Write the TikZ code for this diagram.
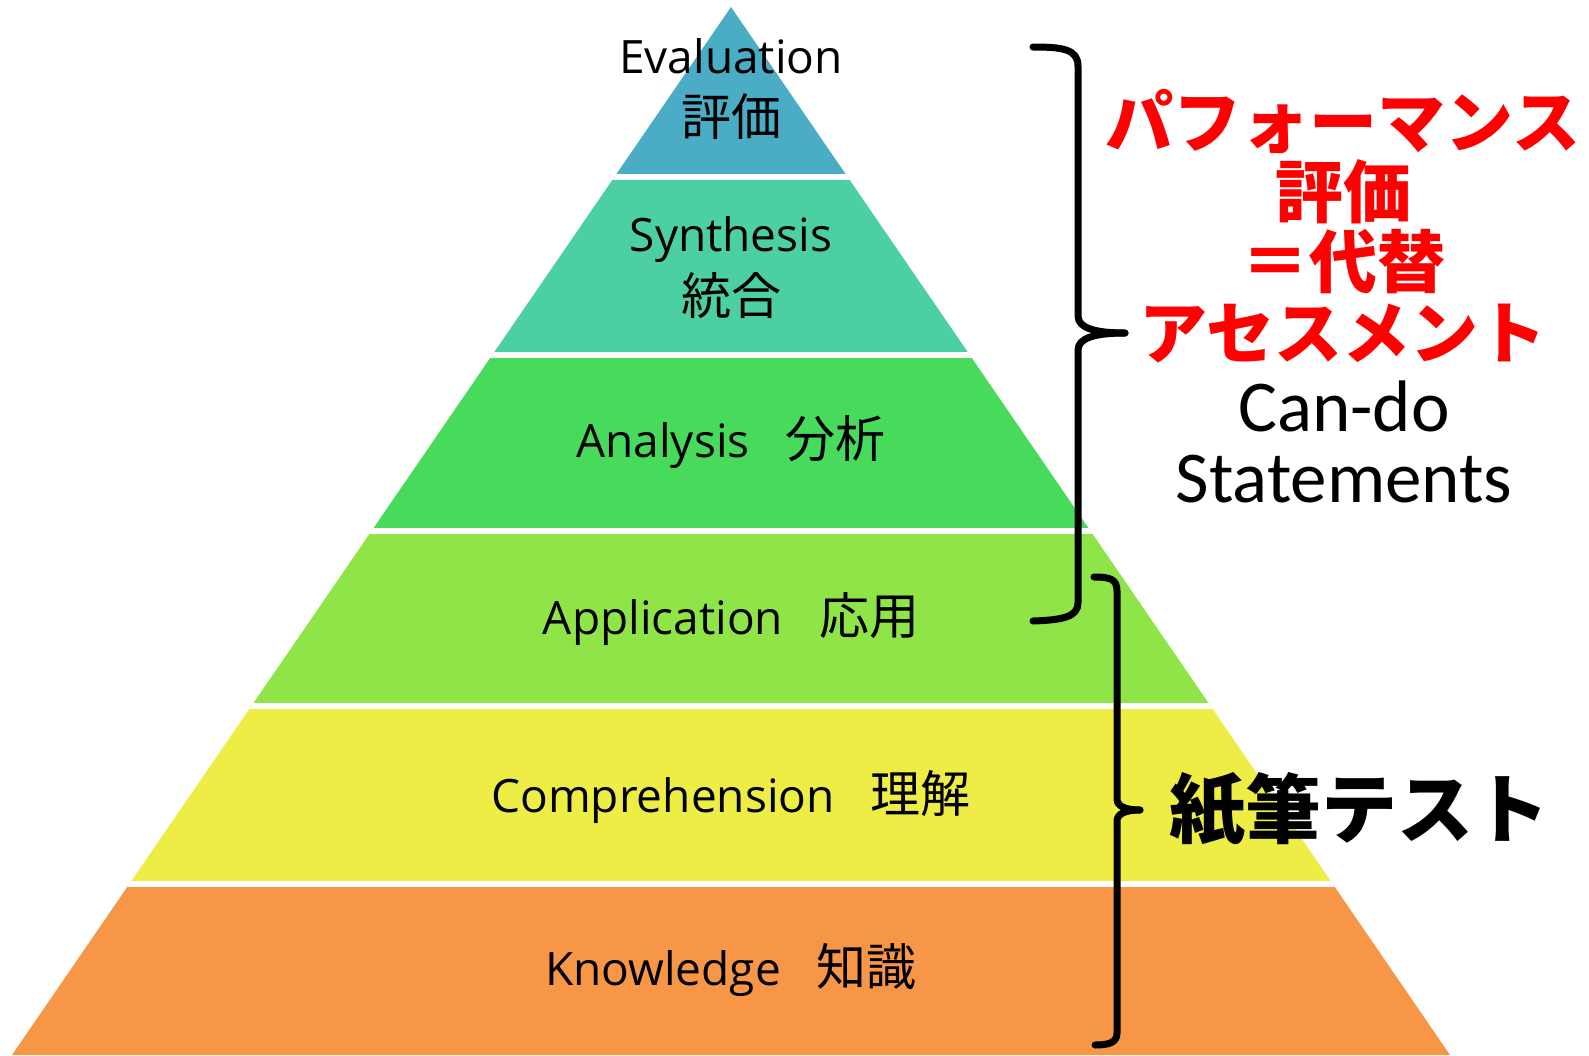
\documentclass[tikz,border=0pt]{standalone}
\usepackage{fontspec}
\setmainfont{Open Sans}
\newfontfamily\jpfont{Noto Sans CJK JP}
\newfontfamily\carfont{Carlito}
\definecolor{cEval}{RGB}{75,172,198}
\definecolor{cSynth}{RGB}{75,207,163}
\definecolor{cAnal}{RGB}{71,218,91}
\definecolor{cAppl}{RGB}{143,229,72}
\definecolor{cComp}{RGB}{237,237,69}
\definecolor{cKnow}{RGB}{247,150,70}
\definecolor{cRed}{RGB}{255,0,0}
\tikzset{
  lab/.style={anchor=base, inner sep=0pt, font=\fontsize{46}{50}\selectfont},
  jplab/.style={anchor=base, inner sep=0pt, font=\jpfont\fontsize{50}{55}\selectfont},
  redlab/.style={anchor=base, inner sep=0pt, text=cRed, font=\jpfont\bfseries\fontsize{68}{72}\selectfont},
  canlab/.style={anchor=base, inner sep=0pt, font=\carfont\fontsize{73}{78}\selectfont},
  testlab/.style={anchor=base, inner sep=0pt, font=\jpfont\bfseries\fontsize{76}{80}\selectfont},
  bracestyle/.style={draw=black, line width=7pt, line cap=round, line join=round},
  gapline/.style={draw=white, line width=6pt}
}
\newcommand{\jp}[1]{{\jpfont\fontsize{50}{55}\selectfont #1}}
\begin{document}
\begin{tikzpicture}[x=1pt,y=-1pt]
\useasboundingbox (0,0) rectangle (1589,1055);
\fill[white] (0,0) rectangle (1589,1055);
% pyramid
\coordinate (apex) at (731,7);
\coordinate (bl) at (12,1055);
\coordinate (br) at (1450,1055);
\begin{scope}
  \clip (apex) -- (br) -- (bl) -- cycle;
  \fill[cEval]  (0,0)   rectangle (1589,177);
  \fill[cSynth] (0,177) rectangle (1589,354.5);
  \fill[cAnal]  (0,354.5) rectangle (1589,530.5);
  \fill[cAppl]  (0,530.5) rectangle (1589,706);
  \fill[cComp]  (0,706) rectangle (1589,884);
  \fill[cKnow]  (0,884) rectangle (1589,1060);
  \draw[gapline] (0,177) -- (1589,177);
  \draw[gapline] (0,354.5) -- (1589,354.5);
  \draw[gapline] (0,530.5) -- (1589,530.5);
  \draw[gapline] (0,706) -- (1589,706);
  \draw[gapline] (0,884) -- (1589,884);
\end{scope}
% pyramid labels
\node[lab] (eval) at (731,73) {Evaluation};
\node[jplab] (evaljp) at (731,135) {評価};
\node[lab] (synth) at (731,251) {Synthesis};
\node[jplab] (synthjp) at (731,314) {統合};
\node[lab] (anal) at (731,457) {Analysis\hspace{36pt}\jp{分析}};
\node[lab] (appl) at (731,634) {Application\hspace{36pt}\jp{応用}};
\node[lab] (comp) at (731,812) {Comprehension\hspace{36pt}\jp{理解}};
\node[lab] (know) at (731,985) {Knowledge\hspace{36pt}\jp{知識}};
% braces
\draw[bracestyle] (1033,47) .. controls (1062,47) and (1078,49) .. (1078,66) -- (1078,316) .. controls (1078,328) and (1095,333) .. (1125,333);
\draw[bracestyle] (1125,333) .. controls (1095,333) and (1078,338) .. (1078,350) -- (1078,603) .. controls (1078,617) and (1062,620) .. (1033,621);
\draw[bracestyle] (1094,577) .. controls (1110,577) and (1117,579) .. (1117,591) -- (1117,799) .. controls (1117,806) and (1125,810) .. (1140,810);
\draw[bracestyle] (1140,810) .. controls (1125,810) and (1117,814) .. (1117,821) -- (1117,1033) .. controls (1117,1042) and (1110,1045) .. (1095,1045);
% right-hand labels
\node[redlab] (r1) at (1343,147) {パフォーマンス};
\node[redlab] (r2) at (1343,217) {評価};
\node[redlab] (r3) at (1343,287) {＝代替};
\node[redlab] (r4) at (1343,358) {アセスメント};
\node[canlab] (cd1) at (1344,431) {Can-do};
\node[canlab] (cd2) at (1344,502) {Statements};
\node[testlab] (test) at (1359,837) {紙筆テスト};
\end{tikzpicture}
\end{document}
